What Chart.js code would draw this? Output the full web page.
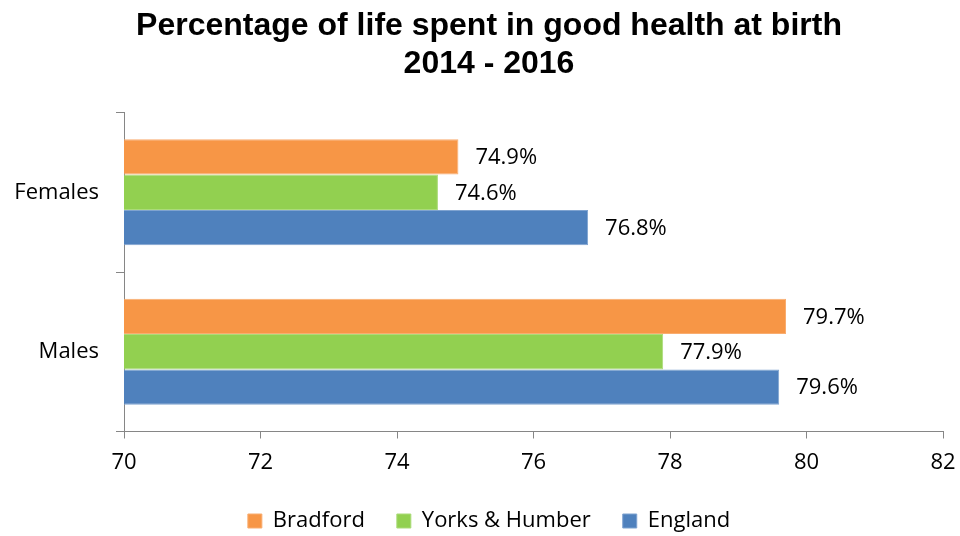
<!DOCTYPE html>
<html>
<head>
<meta charset="utf-8">
<script src="https://cdn.jsdelivr.net/npm/chart.js@4"></script>
<style>
  html, body { margin: 0; padding: 0; background: #fff; }
  #wrap { width: 960px; height: 536px; }
</style>
</head>
<body>
<div id="wrap"><canvas id="myChart" width="960" height="536"></canvas></div>
<script>
var categories = ['Females', 'Males'];
var bradford = [74.9, 79.7];
var yorksHumber = [74.6, 77.9];
var england = [76.8, 79.6];
var seriesNames = ['Bradford', 'Yorks & Humber', 'England'];
var xTicks = [70, 72, 74, 76, 78, 80, 82];

var axisGrey = '#868686';
var bodyFont = '"Open Sans", sans-serif';

/* value labels at the end of each bar */
var barLabels = {
  id: 'barLabels',
  afterDatasetsDraw: function (chart) {
    var ctx = chart.ctx;
    ctx.save();
    ctx.font = '22px ' + bodyFont;
    ctx.fillStyle = '#000';
    ctx.textAlign = 'left';
    ctx.textBaseline = 'middle';
    chart.data.datasets.forEach(function (ds, i) {
      chart.getDatasetMeta(i).data.forEach(function (bar, j) {
        ctx.fillText(ds.data[j].toFixed(1) + '%', bar.x + 17, bar.y + 1);
      });
    });
    ctx.restore();
  }
};

function createChart() {
  const ctx = document.getElementById('myChart');

  new Chart(ctx, {
    type: 'bar',
    data: {
      labels: categories,
      datasets: [{
        label: seriesNames[0],
        data: bradford,
        backgroundColor: '#F79646',
        borderColor: '#F9AD70',
        borderWidth: 1
      }, {
        label: seriesNames[1],
        data: yorksHumber,
        backgroundColor: '#92D050',
        borderColor: '#ABDB79',
        borderWidth: 1
      }, {
        label: seriesNames[2],
        data: england,
        backgroundColor: '#4F81BD',
        borderColor: '#7FA3D0',
        borderWidth: 1
      }]
    },
    options: {
      indexAxis: 'y',
      responsive: false,
      animation: false,
      categoryPercentage: 0.665,
      barPercentage: 1,
      layout: { padding: { left: 12, right: -6, top: 0, bottom: -6 } },
      scales: {
        x: {
          min: xTicks[0],
          max: xTicks[xTicks.length - 1],
          afterBuildTicks: function (s) {
            s.ticks = xTicks.map(function (v) { return { value: v }; });
          },
          afterFit: function (s) {
            s.height = 46.5;
            s.paddingLeft = 0;
            s.paddingRight = 17;
          },
          border: { display: true, color: axisGrey, width: 1 },
          grid: { drawOnChartArea: false, drawTicks: true, tickLength: 7, color: axisGrey },
          ticks: { color: '#000', padding: 11, font: { family: bodyFont, size: 22 } }
        },
        y: {
          afterFit: function (s) {
            s.width = 112;
            s.paddingTop = 0;
            s.paddingBottom = 0;
          },
          border: { display: true, color: axisGrey, width: 1 },
          grid: { offset: true, drawOnChartArea: false, drawTicks: true, tickLength: 8, color: axisGrey },
          ticks: { color: '#000', padding: 17, font: { family: bodyFont, size: 22 } }
        }
      },
      plugins: {
        title: {
          display: true,
          text: ['Percentage of life spent in good health at birth', '2014 - 2016'],
          color: '#000',
          font: { family: '"Liberation Sans", Arial, sans-serif', size: 32, weight: 'bold', lineHeight: 1.165 },
          padding: { top: 8, bottom: 30 }
        },
        legend: {
          position: 'bottom',
          labels: {
            color: '#000',
            boxWidth: 14,
            boxHeight: 14,
            padding: 32,
            font: { family: bodyFont, size: 22 }
          }
        },
        tooltip: { enabled: false }
      }
    },
    plugins: [barLabels]
  });
}

window.onload = createChart();
</script>
</body>
</html>
